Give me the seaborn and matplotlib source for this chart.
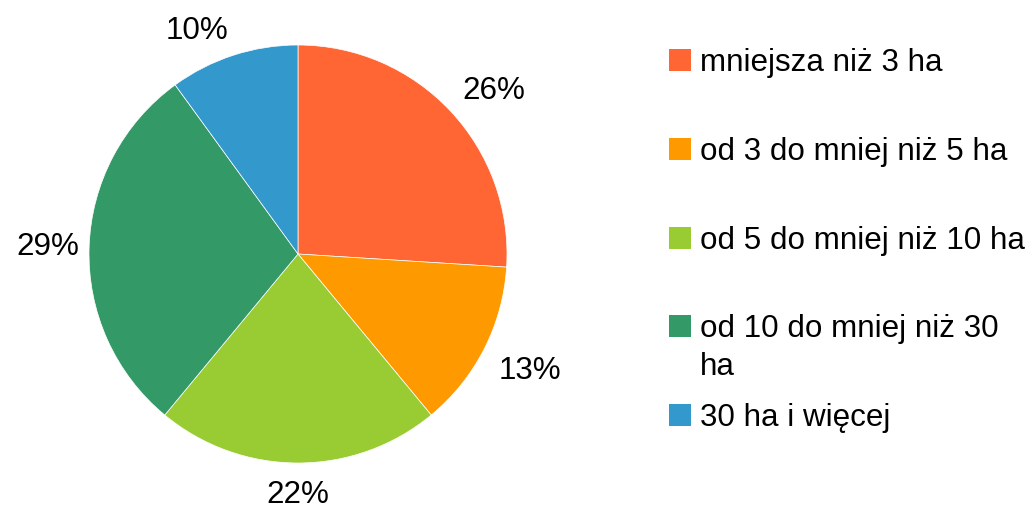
import numpy as np
import matplotlib
matplotlib.use("Agg")
import matplotlib.pyplot as plt
from matplotlib.patches import Rectangle
import seaborn as sns

# udzial gospodarstw wg powierzchni
categories = ["mniejsza niż 3 ha", "od 3 do mniej niż 5 ha", "od 5 do mniej niż 10 ha",
              "od 10 do mniej niż 30\nha", "30 ha i więcej"]
shares = [26, 13, 22, 29, 10]
colors = ["#FF6633", "#FF9900", "#99CC33", "#339966", "#3399CC"]

sns.set_theme(style="white")
plt.rcParams["font.family"] = ["Liberation Sans", "DejaVu Sans"]
FS = 22.6

W, H = 1030, 513
fig = plt.figure(figsize=(W / 100, H / 100), dpi=100)
fig.patch.set_facecolor("white")

# pie: centre (298, 254) px from top-left, radius ~209 px
R = 209
cx, cy = 298, H - 254
ax_w, ax_h = 596, 500
ax = fig.add_axes([(cx - ax_w / 2) / W, (cy - ax_h / 2) / H, ax_w / W, ax_h / H])
pal = sns.color_palette(colors)
wedges, texts, autotexts = ax.pie(shares, colors=pal, startangle=90, counterclock=False,
                                  autopct="%1.0f%%", pctdistance=1.08,
                                  wedgeprops=dict(edgecolor="white", linewidth=0.5),
                                  textprops=dict(fontsize=FS, color="black"))
ax.set_xlim(-ax_w / (2 * R), ax_w / (2 * R))
ax.set_ylim(-ax_h / (2 * R), ax_h / (2 * R))
ax.set_aspect("equal")
ax.axis("off")

# place % labels outside, anchored by the corner nearest the pie
for w, t in zip(wedges, autotexts):
    ang = np.deg2rad((w.theta1 + w.theta2) / 2)
    c, s = np.cos(ang), np.sin(ang)
    side = abs(s) < 0.2
    d = 1.045 if side else 1.08
    t.set_position((d * c, d * s))
    t.set_ha("left" if c > 0.2 else ("right" if c < -0.2 else "center"))
    t.set_va("baseline" if s > 0.2 else ("top" if s < -0.2 else "center"))

# legend drawn by hand so the two-line entry keeps even spacing
for i, (lab, col) in enumerate(zip(categories, pal)):
    yc = 60 + i * 88.8
    fig.patches.append(Rectangle((669 / W, (H - yc - 11) / H), 22 / W, 22 / H,
                                 transform=fig.transFigure, facecolor=col, edgecolor="none"))
    for k, line in enumerate(lab.split("\n")):
        fig.text(700 / W, (H - yc - 11 - k * 38) / H, line, fontsize=FS,
                 va="baseline", ha="left", color="black")

fig.savefig("out.png", dpi=100)
